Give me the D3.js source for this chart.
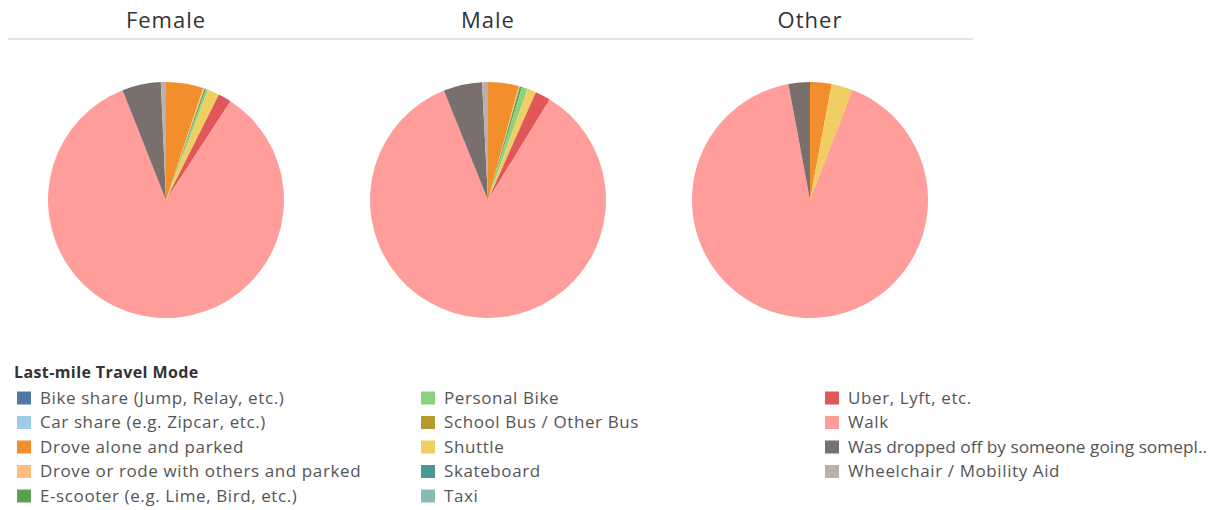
<!DOCTYPE html>
<html><head><meta charset="utf-8">
<script src="https://cdn.jsdelivr.net/npm/d3@7"></script>
<style>body{margin:0;background:#fff;}svg{display:block;}</style>
</head><body>
<script>
const modes = ["Bike share (Jump, Relay, etc.)","Car share (e.g. Zipcar, etc.)","Drove alone and parked","Drove or rode with others and parked","E-scooter (e.g. Lime, Bird, etc.)","Personal Bike","School Bus / Other Bus","Shuttle","Skateboard","Taxi","Uber, Lyft, etc.","Walk","Was dropped off by someone going somepl..","Wheelchair / Mobility Aid"];
const colors = ["#4e79a7","#a0cbe8","#f28e2b","#ffbe7d","#59a14f","#8cd17d","#b6992d","#f1ce63","#499894","#86bcb6","#e15759","#ff9d9a","#79706e","#bab0ac"];
const genders = ["Female","Male","Other"];
const femaleValues = [0,0,5.1,0.2,0.2,0.3,0,1.6,0,0,1.8,84.7,5.3,0.7];
const maleValues   = [0,0,4.2,0.15,0.3,0.8,0,1.2,0,0,2.1,85.1,5.3,0.8];
const otherValues  = [0,0,2.94,0,0,0,0,2.94,0,0,0,91.18,2.94,0];
const seriesValues = [femaleValues, maleValues, otherValues];

const W=1223,H=510;
const svg=d3.select("body").append("svg").attr("width",W).attr("height",H);
const color=d3.scaleOrdinal().domain(modes).range(colors);
const x=d3.scalePoint().domain(genders).range([166,810]);
const radius=118, cy=200;

// header
svg.append("line").attr("x1",8).attr("x2",973).attr("y1",39).attr("y2",39).attr("stroke","#dcdcdc").attr("stroke-width",1.5);
svg.selectAll("text.title").data(genders).join("text").attr("class","title")
  .attr("x",d=>x(d)).attr("y",28).attr("text-anchor","middle")
  .attr("font-family","Open Sans, sans-serif").attr("font-size",22).attr("letter-spacing",1)
  .attr("fill","#333").text(d=>d);

const pie=d3.pie().sort(null).value(d=>d.v);
const arc=d3.arc().innerRadius(0).outerRadius(radius);
genders.forEach((g,i)=>{
  const data=modes.map((m,j)=>({m,v:seriesValues[i][j]}));
  svg.append("g").attr("transform",`translate(${x(g)},${cy})`)
    .selectAll("path").data(pie(data).filter(d=>d.data.v>0)).join("path")
    .attr("d",arc).attr("fill",d=>color(d.data.m));
});

// legend
svg.append("text").attr("x",14).attr("y",378).attr("font-family","Open Sans, sans-serif")
  .attr("font-weight","bold").attr("font-size",16).attr("letter-spacing",0.4).attr("fill","#333").text("Last-mile Travel Mode");
const colX=[17,421,825], rowY=d3.scaleLinear().domain([0,4]).range([398,496]);
const lg=svg.selectAll("g.li").data(modes).join("g").attr("class","li")
  .attr("transform",(d,i)=>{const c=i<5?0:(i<10?1:2); const r=i<5?i:(i<10?i-5:i-10); return `translate(${colX[c]},${rowY(r)})`;});
lg.append("rect").attr("x",0).attr("y",-6.5).attr("width",14).attr("height",13).attr("fill",d=>color(d));
lg.append("text").attr("x",23).attr("y",0).attr("dy","0.35em").attr("font-family","Open Sans, sans-serif")
  .attr("font-size",17).attr("letter-spacing",0.6).attr("fill","#555").text(d=>d)
  .each(function(d,i){
    const c=i<5?0:(i<10?1:2);
    const maxW=W-16-(colX[c]+23);
    const w=this.getComputedTextLength();
    if(w>maxW){d3.select(this).attr("letter-spacing",0).attr("textLength",maxW).attr("lengthAdjust","spacingAndGlyphs");}
  });
</script>
</body></html>
